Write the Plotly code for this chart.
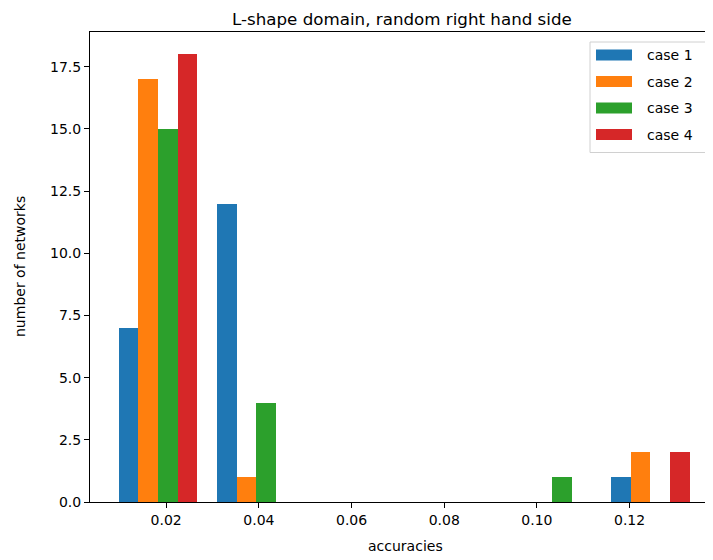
import plotly.graph_objects as go

# ---- data (histogram of accuracies) ----
bin_edges = [0.0076, 0.02885, 0.0501, 0.07135, 0.0926, 0.11385, 0.1351]
case_names = ["case 1", "case 2", "case 3", "case 4"]
case1 = [7, 12, 0, 0, 0, 1]
case2 = [17, 1, 0, 0, 0, 2]
case3 = [15, 4, 0, 0, 1, 0]
case4 = [18, 0, 0, 0, 0, 2]
counts = [case1, case2, case3, case4]
colors = ["#1f77b4", "#ff7f0e", "#2ca02c", "#d62728"]
x_ticks = [0.02, 0.04, 0.06, 0.08, 0.10, 0.12]
y_ticks = [0, 2.5, 5, 7.5, 10, 12.5, 15, 17.5]

OFF = 8  # default page body margin
W, H = 713 - OFF, 560 - OFF
L, R, T, B = 90, 713, 32, 502  # plot-area box in page pixels


def px(x):
    return (x - L) / (R - L)


def py(y):
    return (B - y) / (B - T)


fig = go.Figure()
n = len(counts)
for j, (name, vals, col) in enumerate(zip(case_names, counts, colors)):
    xs, ws = [], []
    for k in range(len(vals)):
        bw = bin_edges[k + 1] - bin_edges[k]
        barw = 0.8 * bw / n
        xs.append(bin_edges[k] + 0.1 * bw + (j + 0.5) * barw)
        ws.append(barw)
    fig.add_trace(go.Bar(x=xs, y=vals, width=ws, name=name,
                         marker=dict(color=col, line=dict(width=0)),
                         showlegend=False))

font = "DejaVu Sans"
fig.update_layout(
    width=W, height=H,
    margin=dict(l=L - OFF, r=0, t=T - OFF, b=H - (B - OFF), pad=0),
    paper_bgcolor="white", plot_bgcolor="white",
    barmode="overlay", bargap=0,
    font=dict(family=font, size=14, color="#000"),
    xaxis=dict(range=[0.00356, 0.1380], tickvals=x_ticks,
               ticktext=[f"{v:.2f}" for v in x_ticks],
               showline=True, linecolor="#000", linewidth=1, mirror=True,
               ticks="outside", ticklen=5, tickcolor="#000", tickwidth=1,
               showgrid=False, zeroline=False),
    yaxis=dict(range=[0, 18.9], tickvals=y_ticks,
               ticktext=[f"{v:.1f}" for v in y_ticks],
               showline=True, linecolor="#000", linewidth=1, mirror=False,
               ticks="outside", ticklen=5, tickcolor="#000", tickwidth=1,
               showgrid=False, zeroline=False),
)

annotations = [
    dict(text="L-shape domain, random right hand side", x=px(402), y=py(OFF + 0.5),
         xref="paper", yref="paper", showarrow=False, xanchor="center",
         yanchor="top", borderpad=0,
         font=dict(size=16.7, family=font, color="#000")),
    dict(text="accuracies", x=px(405), y=py(546), xref="paper", yref="paper",
         showarrow=False, xanchor="center", yanchor="middle",
         font=dict(size=14, family=font, color="#000")),
    dict(text="number of networks", x=px(20), y=0.5, xref="paper", yref="paper",
         showarrow=False, xanchor="center", yanchor="middle", textangle=-90,
         font=dict(size=14, family=font, color="#000")),
]

# legend drawn manually to match matplotlib style
shapes = [dict(type="rect", xref="paper", yref="paper",
               x0=px(590), x1=px(709.5), y0=py(42), y1=py(152.5),
               line=dict(color="#d0d0d0", width=1),
               fillcolor="rgba(255,255,255,0.8)", layer="above")]
row_y = [55, 81.5, 108, 134.5]
for name, col, yy in zip(case_names, colors, row_y):
    shapes.append(dict(type="rect", xref="paper", yref="paper",
                       x0=px(596), x1=px(632), y0=py(yy - 5.5), y1=py(yy + 5.5),
                       line=dict(width=0), fillcolor=col, layer="above"))
    annotations.append(dict(text=name, x=px(645), y=py(yy), xref="paper",
                            yref="paper", showarrow=False, xanchor="left",
                            yanchor="middle",
                            font=dict(size=14, family=font, color="#000")))

fig.update_layout(annotations=annotations, shapes=shapes)
fig.write_html("out.html")
